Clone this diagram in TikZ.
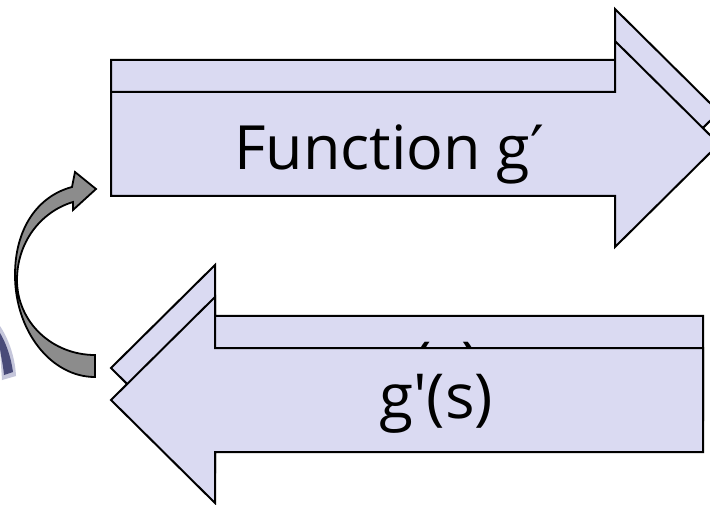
\documentclass[tikz,border=0pt]{standalone}
\usepackage{fontspec}
\newfontfamily\opensans{Open Sans}
\newfontfamily\dejavu{DejaVu Sans}
\definecolor{arrowfill}{RGB}{218,218,242}
\definecolor{curvefill}{RGB}{140,140,140}
\definecolor{blobdark}{RGB}{52,54,105}
\definecolor{blobmid}{RGB}{110,114,165}
\begin{document}
\begin{tikzpicture}[x=1pt,y=-1pt,
  blockarrow/.style={fill=arrowfill, draw=black, line width=2pt, line join=miter},
  curvearrow/.style={fill=curvefill, draw=black, line width=1.8pt, line join=miter},
  bigtext/.style={font=\opensans\fontsize{61}{63}\selectfont, inner sep=0pt, anchor=base},
  labeltext/.style={font=\opensans\fontsize{62}{64}\selectfont, inner sep=0pt, anchor=base}]
\useasboundingbox (0,0) rectangle (710,505);
\clip (0,0) rectangle (710,505);
\fill[white] (0,0) rectangle (710,505);

% blurred fragment at left edge
\fill[blobmid, opacity=0.4] (0,326) .. controls (8,338) and (15,356) .. (16,376) -- (2,380) .. controls (1,364) and (0,352) .. (0,342) -- cycle;
\fill[blobdark, opacity=0.85] (0,333) .. controls (6,343) and (11,357) .. (13,372) -- (4,375) .. controls (3,363) and (0,353) .. (0,347) -- cycle;

% top arrow pair (pointing right)
\draw[blockarrow] (111,60) -- (615,60) -- (615,9) -- (719,112) -- (615,215) -- (615,164) -- (111,164) -- cycle;
\draw[blockarrow] (111,92) -- (615,92) -- (615,41) -- (719,144) -- (615,247) -- (615,196) -- (111,196) -- cycle;
\node[bigtext] (fn) at (389,170) {Function g{\dejavu ′}};

% bottom arrow pair (pointing left)
\draw[blockarrow] (703,316) -- (215,316) -- (215,265) -- (111,368) -- (215,471) -- (215,420) -- (703,420) -- cycle;
\begin{scope}
  \clip (215,300) rectangle (703,348);
  \node[labeltext] (gback) at (430,386) {g(s)};
\end{scope}
\draw[blockarrow] (703,348) -- (215,348) -- (215,297) -- (111,400) -- (215,503) -- (215,452) -- (703,452) -- cycle;
\node[labeltext] (gfront) at (436,418) {g'(s)};

% curved arrow from bottom arrow back to top arrow
\draw[curvearrow] (95,377) .. controls (51,377) and (15,331) .. (15,275)
  .. controls (15,228) and (38,196) .. (72,187) -- (75,172) -- (96,189) -- (73,210) -- (73,202)
  .. controls (40,212) and (17,243) .. (17,280)
  .. controls (17,322) and (52,355) .. (95,355) -- cycle;
\end{tikzpicture}
\end{document}
